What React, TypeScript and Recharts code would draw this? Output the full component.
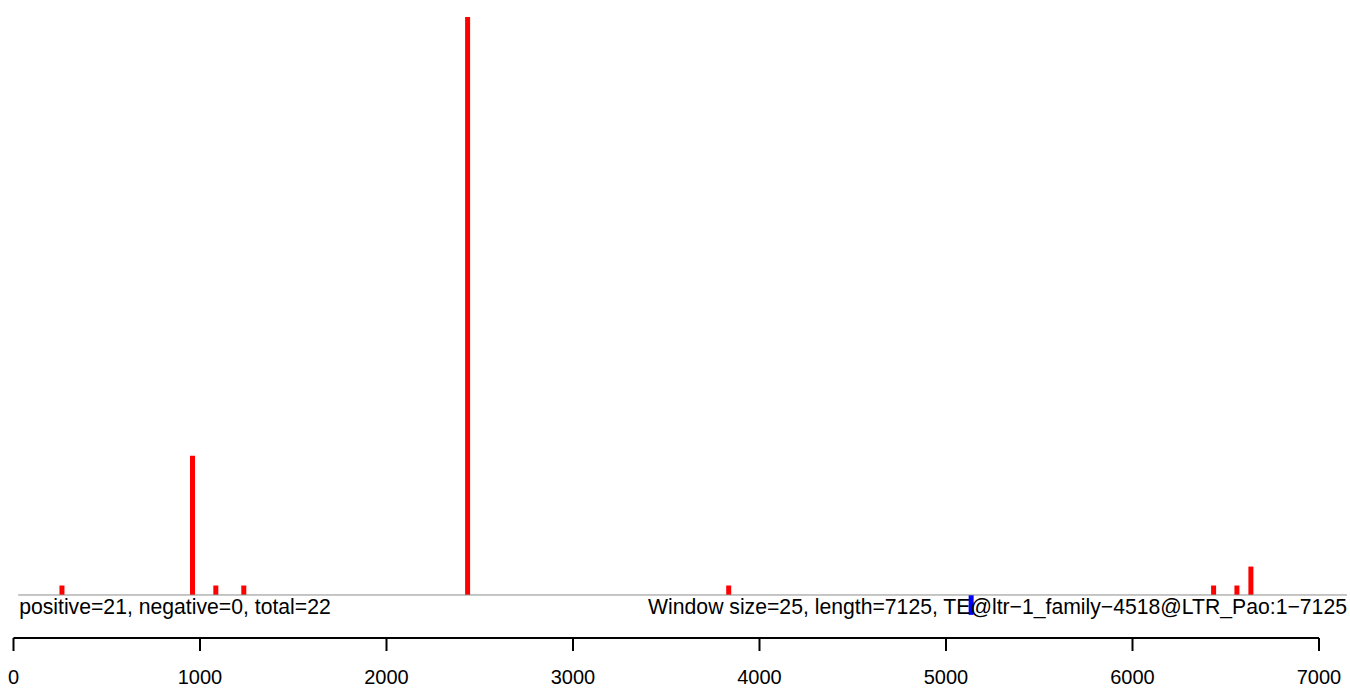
import { Bar, ComposedChart, ReferenceLine, XAxis, YAxis } from "recharts";

// window starts (bp) and heights
const windowSize = 25;
const seqLength = 7125;
const positiveStarts = [250, 950, 1075, 1225, 2425, 3825, 6425, 6550, 6625];
const positiveValues = [1, 14.7, 1, 1, 61, 1, 1, 1, 3];
const negativeStarts = [5125];
const negativeValues = [-2.1];
const xTicks = [0, 1000, 2000, 3000, 4000, 5000, 6000, 7000];

const leftNote = "positive=21, negative=0, total=22";
const rightNote = `Window size=${windowSize}, length=${seqLength}, TE@ltr\u22121_family\u22124518@LTR_Pao:1\u2212${seqLength}`;

const Y_MAX = 61;
const Y_MIN = -4.54;

type Row = { pos: number; up?: number; down?: number };

const rows: Row[] = [
  ...positiveStarts.map((s, i) => ({ pos: s + windowSize / 2, up: positiveValues[i] })),
  ...negativeStarts.map((s, i) => ({ pos: s + windowSize / 2, down: negativeValues[i] })),
].sort((a, b) => a.pos - b.pos);

const FONT = '"Liberation Sans", Arial, Helvetica, sans-serif';

function Notes(props: { viewBox?: { x: number; y: number; width: number } }) {
  const vb = props.viewBox;
  if (!vb) return null;
  return (
    <g fontFamily={FONT} fontSize={21.2} fill="#000">
      <text x={vb.x + 1} y={vb.y + 19} textAnchor="start">
        {leftNote}
      </text>
      <text x={vb.x + vb.width} y={vb.y + 19} textAnchor="end">
        {rightNote}
      </text>
    </g>
  );
}

export default function App() {
  return (
    <div style={{ position: "absolute", left: 0, top: 0, width: 1350, height: 689, background: "#fff", fontFamily: FONT }}>
      <ComposedChart
        width={1350}
        height={689}
        data={rows}
        margin={{ top: 17, right: 31, bottom: 0, left: 13.5 }}
      >
        <XAxis
          dataKey="pos"
          type="number"
          domain={[0, 7000]}
          ticks={xTicks}
          height={51}
          tickSize={13}
          tickMargin={19}
          axisLine={{ stroke: "#000", strokeWidth: 2 }}
          tickLine={{ stroke: "#000", strokeWidth: 2 }}
          tick={{ fill: "#000", fontSize: 20, fontFamily: FONT }}
          interval={0}
        />
        <YAxis hide type="number" domain={[Y_MIN, Y_MAX]} allowDataOverflow />
        <ReferenceLine
          segment={[
            { x: windowSize, y: 0 },
            { x: seqLength + windowSize, y: 0 },
          ]}
          stroke="#8c8c8c"
          strokeWidth={1}
          ifOverflow="visible"
          label={(p: any) => <Notes viewBox={p.viewBox} />}
        />
        <Bar dataKey="up" stackId="w" fill="#ff0000" barSize={5} isAnimationActive={false} />
        <Bar dataKey="down" stackId="w" fill="#0000ff" barSize={5} isAnimationActive={false} />
      </ComposedChart>
    </div>
  );
}
